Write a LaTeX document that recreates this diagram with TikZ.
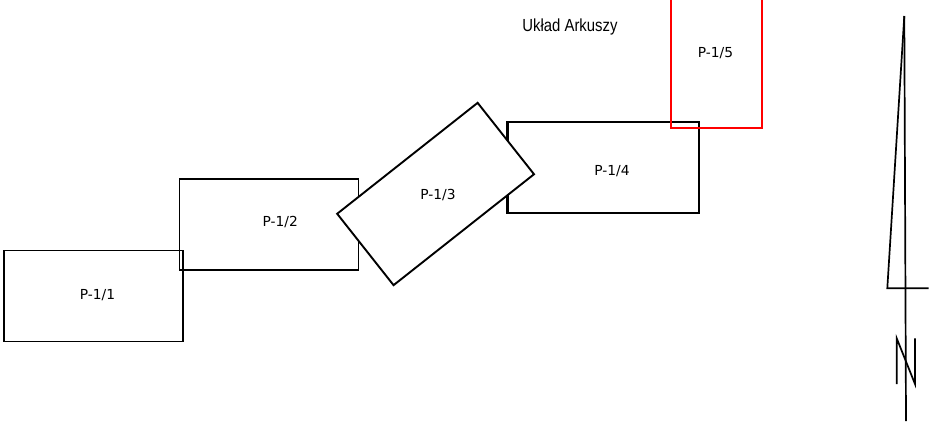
\documentclass[tikz,border=0pt]{standalone}
\usepackage{fontspec}
\setmainfont{DejaVu Sans}
\newfontfamily\narrowfont[FakeStretch=0.85]{Liberation Sans}
\begin{document}
\begin{tikzpicture}[x=1pt,y=-1pt,
  sheet/.style={draw=black,line width=1.9pt,minimum width=179pt,minimum height=91pt,inner sep=0pt,outer sep=0pt},
  sheetlbl/.style={font=\fontsize{13.8}{15}\selectfont,inner sep=0pt},
  arrowline/.style={line width=1.7pt}]
\useasboundingbox (0,0) rectangle (943,421);
\clip (0,0) rectangle (943,421);
\node[sheet] (s1) at (93.5,296) {};
\node[sheet] (s2) at (269,224.3) {};
\node[sheet,line width=2.4pt,minimum width=191.5pt] (s4) at (603.2,167.7) {};
\node[sheet,fill=white,rotate=38.3] (s3) at (435.6,194) {};
\node[sheet,draw=red,minimum width=91pt,minimum height=140pt] (s5) at (716.7,58) {};
\node[sheetlbl] (l1) at (97.5,295.5) {P-1/1};
\node[sheetlbl] (l2) at (280.3,222.3) {P-1/2};
\node[sheetlbl] (l3) at (438,195) {P-1/3};
\node[sheetlbl] (l4) at (612,171) {P-1/4};
\node[sheetlbl] (l5) at (715.5,53.3) {P-1/5};
\node[font=\narrowfont\fontsize{17.5}{19}\selectfont,inner sep=0pt] (title) at (570,27) {Układ Arkuszy};
% north arrow
\coordinate (apex) at (904.3,16);
\coordinate (bot) at (906,421);
\coordinate (bl) at (887.3,288.3);
\coordinate (br) at (928.7,288.3);
\coordinate (n1) at (896.7,384);
\coordinate (n2) at (896.7,338.3);
\coordinate (n3) at (915,384);
\coordinate (n4) at (915,338.3);
\draw[arrowline] (apex) -- (bot);
\draw[arrowline] (apex) -- (bl) -- (br);
\draw[arrowline] (n1) -- (n2) -- (n3) -- (n4);
\end{tikzpicture}
\end{document}
